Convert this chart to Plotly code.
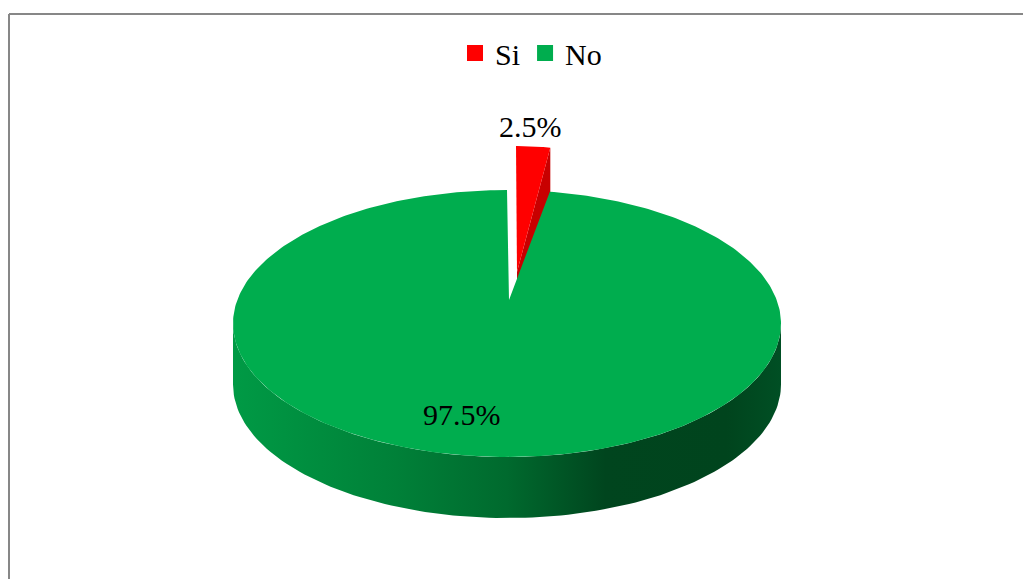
import numpy as np
import plotly.graph_objects as go

# ---- data ----
labels = ["Si", "No"]
values = [2.5, 97.5]
colors_top = ["#ff0000", "#00ad4e"]
colors_side = ["#c80000", "#00441d"]

W, H = 1031, 579
OFF = 8  # page body margin: data coordinates == page pixels
# ---- 3D pie geometry (pixels) ----
cx, cy = 507.0, 323.5      # ellipse centre (top face)
rx, ry = 274.0, 133.5      # ellipse radii
apex = (509.0, 300.0)      # projected pie centre
depth = 61.0               # thickness of pie
explode_apex = (8.0, -28.0)
explode_rim = (9.0, -44.0)
explode_scale = 0.8        # perspective shrink of the pulled-back slice

fracs = np.array(values) / sum(values)
bounds = np.concatenate([[0], np.cumsum(fracs)]) * 360.0


def rim(theta_deg, dy=0.0, sx=1.0):
    t = np.radians(theta_deg)
    return cx + sx * rx * np.sin(t), cy - ry * np.cos(t) + dy


fig = go.Figure()

# --- slice 0 (Si) exploded ---
a0, a1 = bounds[0], bounds[1]
th = np.linspace(a0, a1, 30)
rxs, rys = rim(th, sx=explode_scale)
rxs = rxs + explode_rim[0]
rys = rys + explode_rim[1]
ax_, ay_ = apex[0] + explode_apex[0], apex[1] + explode_apex[1]
ex, ey = rxs[-1], rys[-1]
d2 = depth * 0.8
fig.add_trace(go.Scatter(
    x=[ax_, ex, ex, ax_, ax_], y=[ay_, ey, ey + d2, ay_ + d2, ay_],
    fill="toself", fillcolor=colors_side[0], line=dict(width=0), mode="lines",
    hoverinfo="skip", showlegend=False))
fig.add_trace(go.Scatter(
    x=np.concatenate([[ax_], rxs, [ax_]]), y=np.concatenate([[ay_], rys, [ay_]]),
    fill="toself", fillcolor=colors_top[0], line=dict(width=0), mode="lines",
    hoverinfo="skip", showlegend=False))

# --- slice 1 (No) ---
b0, b1 = bounds[1], bounds[2]
front = np.linspace(max(90, b0), min(270, b1), 120)
tx, ty = rim(front)
bx, by = rim(front[::-1], depth)
fig.add_trace(go.Scatter(
    x=np.concatenate([tx, bx, tx[:1]]), y=np.concatenate([ty, by, ty[:1]]),
    fill="toself", mode="lines", line=dict(width=0),
    fillgradient=dict(type="horizontal",
                      colorscale=[[0, "#009a45"], [0.3, "#008038"], [0.5, "#006a2e"],
                                  [0.68, "#00451e"], [0.9, "#00441d"], [1, "#004f24"]]),
    hoverinfo="skip", showlegend=False))
th = np.linspace(b0, b1, 400)
gx, gy = rim(th)
fig.add_trace(go.Scatter(
    x=np.concatenate([[apex[0]], gx, [apex[0]]]), y=np.concatenate([[apex[1]], gy, [apex[1]]]),
    fill="toself", fillcolor=colors_top[1], line=dict(width=0), mode="lines",
    hoverinfo="skip", showlegend=False))

# legend entries
for lab, col in zip(labels, colors_top):
    fig.add_trace(go.Scatter(x=[None], y=[None], mode="markers", name=lab,
                             marker=dict(symbol="square", size=16, color=col)))

font = dict(family="Liberation Serif, Times New Roman, serif", size=30, color="#000000")

# data labels
label_pos = [(530, 126), (462, 414)]
annotations = []
for v, (lx, ly) in zip(values, label_pos):
    annotations.append(dict(x=lx, y=ly, xref="x", yref="y", text=f"{v}%",
                            showarrow=False, font=font, xanchor="center", yanchor="middle"))

shapes = [
    dict(type="line", xref="x", yref="y", x0=9, y0=14, x1=1050, y1=14,
         line=dict(color="#878787", width=2)),
    dict(type="line", xref="x", yref="y", x0=9, y0=14, x1=9, y1=610,
         line=dict(color="#878787", width=2)),
]

fig.update_layout(
    width=W, height=H,
    margin=dict(l=0, r=0, t=0, b=0),
    paper_bgcolor="#ffffff", plot_bgcolor="#ffffff",
    xaxis=dict(range=[OFF, W + OFF], visible=False, fixedrange=True),
    yaxis=dict(range=[H + OFF, OFF], visible=False, fixedrange=True),
    showlegend=True,
    legend=dict(orientation="h", x=0.5073, xanchor="center", y=1 - 45 / H, yanchor="middle",
                font=font, itemsizing="trace", bgcolor="rgba(0,0,0,0)", tracegroupgap=0),
    annotations=annotations,
    shapes=shapes,
)

fig.write_html("out.html")
